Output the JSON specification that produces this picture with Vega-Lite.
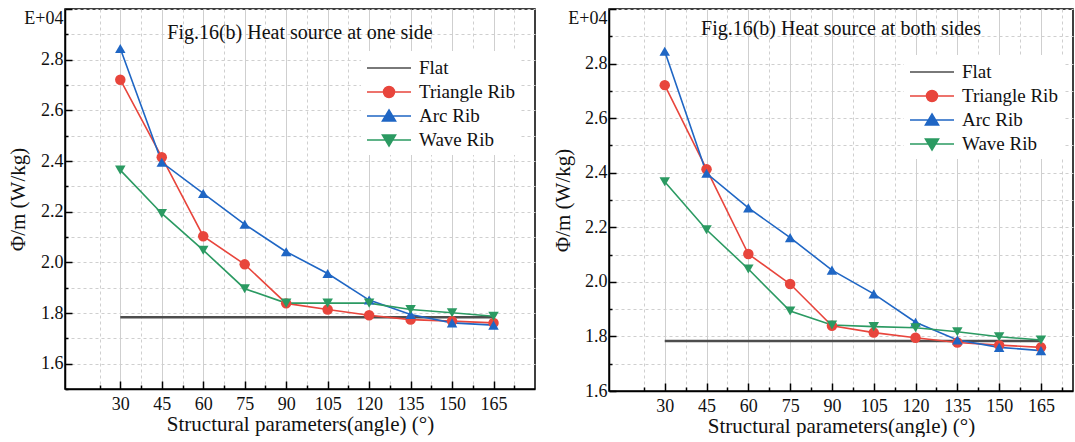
{
  "$schema": "https://vega.github.io/schema/vega-lite/v6.json",
  "background": "white",
  "padding": {"left": 6, "top": 7, "right": 0, "bottom": 0},
  "spacing": 15,
  "config": {
    "font": "Liberation Serif",
    "view": {"stroke": "black", "strokeWidth": 1.5},
    "title": {"font": "Liberation Serif"},
    "style": {"guide-label": {"font": "Liberation Serif"}, "guide-title": {"font": "Liberation Serif"}},
    "legend": {"labelFont": "Liberation Serif", "titleFont": "Liberation Serif"},
    "axis": {
      "labelFont": "Liberation Serif", "titleFont": "Liberation Serif",
      "domainColor": "black", "domainWidth": 1.5,
      "tickColor": "black", "tickWidth": 1.5,
      "labelFontSize": 18, "labelColor": "#111",
      "titleFontSize": 21, "titleFontWeight": "normal", "titleColor": "#111",
      "gridColor": "#cfcfcf", "gridWidth": 1
    }
  },
  "datasets": {
    "d": [
      {"p": "one", "s": "Flat", "a": 30, "v": 1.783},
      {"p": "one", "s": "Flat", "a": 165, "v": 1.783},
      {"p": "one", "s": "Triangle Rib", "a": 30, "v": 2.721},
      {"p": "one", "s": "Triangle Rib", "a": 45, "v": 2.415},
      {"p": "one", "s": "Triangle Rib", "a": 60, "v": 2.103},
      {"p": "one", "s": "Triangle Rib", "a": 75, "v": 1.992},
      {"p": "one", "s": "Triangle Rib", "a": 90, "v": 1.838},
      {"p": "one", "s": "Triangle Rib", "a": 105, "v": 1.814},
      {"p": "one", "s": "Triangle Rib", "a": 120, "v": 1.791},
      {"p": "one", "s": "Triangle Rib", "a": 135, "v": 1.774},
      {"p": "one", "s": "Triangle Rib", "a": 150, "v": 1.768},
      {"p": "one", "s": "Triangle Rib", "a": 165, "v": 1.761},
      {"p": "one", "s": "Arc Rib", "a": 30, "v": 2.844},
      {"p": "one", "s": "Arc Rib", "a": 45, "v": 2.395},
      {"p": "one", "s": "Arc Rib", "a": 60, "v": 2.272},
      {"p": "one", "s": "Arc Rib", "a": 75, "v": 2.15},
      {"p": "one", "s": "Arc Rib", "a": 90, "v": 2.042},
      {"p": "one", "s": "Arc Rib", "a": 105, "v": 1.956},
      {"p": "one", "s": "Arc Rib", "a": 120, "v": 1.851},
      {"p": "one", "s": "Arc Rib", "a": 135, "v": 1.794},
      {"p": "one", "s": "Arc Rib", "a": 150, "v": 1.761},
      {"p": "one", "s": "Arc Rib", "a": 165, "v": 1.752},
      {"p": "one", "s": "Wave Rib", "a": 30, "v": 2.364},
      {"p": "one", "s": "Wave Rib", "a": 45, "v": 2.193},
      {"p": "one", "s": "Wave Rib", "a": 60, "v": 2.048},
      {"p": "one", "s": "Wave Rib", "a": 75, "v": 1.896},
      {"p": "one", "s": "Wave Rib", "a": 90, "v": 1.839},
      {"p": "one", "s": "Wave Rib", "a": 105, "v": 1.839},
      {"p": "one", "s": "Wave Rib", "a": 120, "v": 1.839},
      {"p": "one", "s": "Wave Rib", "a": 135, "v": 1.814},
      {"p": "one", "s": "Wave Rib", "a": 150, "v": 1.801},
      {"p": "one", "s": "Wave Rib", "a": 165, "v": 1.787},
      {"p": "both", "s": "Flat", "a": 30, "v": 1.783},
      {"p": "both", "s": "Flat", "a": 165, "v": 1.783},
      {"p": "both", "s": "Triangle Rib", "a": 30, "v": 2.721},
      {"p": "both", "s": "Triangle Rib", "a": 45, "v": 2.413},
      {"p": "both", "s": "Triangle Rib", "a": 60, "v": 2.102},
      {"p": "both", "s": "Triangle Rib", "a": 75, "v": 1.992},
      {"p": "both", "s": "Triangle Rib", "a": 90, "v": 1.839},
      {"p": "both", "s": "Triangle Rib", "a": 105, "v": 1.814},
      {"p": "both", "s": "Triangle Rib", "a": 120, "v": 1.795},
      {"p": "both", "s": "Triangle Rib", "a": 135, "v": 1.778},
      {"p": "both", "s": "Triangle Rib", "a": 150, "v": 1.768},
      {"p": "both", "s": "Triangle Rib", "a": 165, "v": 1.76},
      {"p": "both", "s": "Arc Rib", "a": 30, "v": 2.845},
      {"p": "both", "s": "Arc Rib", "a": 45, "v": 2.398},
      {"p": "both", "s": "Arc Rib", "a": 60, "v": 2.271},
      {"p": "both", "s": "Arc Rib", "a": 75, "v": 2.162},
      {"p": "both", "s": "Arc Rib", "a": 90, "v": 2.043},
      {"p": "both", "s": "Arc Rib", "a": 105, "v": 1.956},
      {"p": "both", "s": "Arc Rib", "a": 120, "v": 1.852},
      {"p": "both", "s": "Arc Rib", "a": 135, "v": 1.787},
      {"p": "both", "s": "Arc Rib", "a": 150, "v": 1.76},
      {"p": "both", "s": "Arc Rib", "a": 165, "v": 1.748},
      {"p": "both", "s": "Wave Rib", "a": 30, "v": 2.367},
      {"p": "both", "s": "Wave Rib", "a": 45, "v": 2.191},
      {"p": "both", "s": "Wave Rib", "a": 60, "v": 2.047},
      {"p": "both", "s": "Wave Rib", "a": 75, "v": 1.893},
      {"p": "both", "s": "Wave Rib", "a": 90, "v": 1.842},
      {"p": "both", "s": "Wave Rib", "a": 105, "v": 1.836},
      {"p": "both", "s": "Wave Rib", "a": 120, "v": 1.832},
      {"p": "both", "s": "Wave Rib", "a": 135, "v": 1.817},
      {"p": "both", "s": "Wave Rib", "a": 150, "v": 1.799},
      {"p": "both", "s": "Wave Rib", "a": 165, "v": 1.787}
    ]
  },
  "resolve": {
    "scale": {"x": "independent", "y": "independent", "color": "independent", "shape": "independent", "fill": "independent", "stroke": "independent"},
    "legend": {"color": "independent", "shape": "independent", "fill": "independent", "stroke": "independent"}
  },
  "hconcat": [
    {
      "width": 470,
      "height": 380,
      "title": {"text": "Fig.16(b) Heat source at one side", "offset": -35, "fontSize": 20, "fontWeight": "normal", "color": "#111", "font": "Liberation Serif"},
      "data": {"name": "d"},
      "transform": [{"filter": "datum.p == 'one'"}],
      "encoding": {
        "x": {
          "field": "a", "type": "quantitative",
          "scale": {"domain": [10, 180], "nice": false, "zero": false},
          "axis": {
            "title": "Structural parameters(angle) (°)",
            "labelFont": "Liberation Serif", "titleFont": "Liberation Serif", "labelFontSize": 18, "titleFontSize": 21,
            "values": [22.5, 30, 37.5, 45, 52.5, 60, 67.5, 75, 82.5, 90, 97.5, 105, 112.5, 120, 127.5, 135, 142.5, 150, 157.5, 165, 172.5],
            "labelExpr": "datum.value % 15 == 0 ? format(datum.value, 'd') : ''",
            "grid": true,
            "gridDash": {"condition": {"test": "datum.value % 15 != 0", "value": [3, 3]}, "value": []},
            "tickSize": {"condition": {"test": "datum.value % 15 == 0", "value": -8}, "value": -4},
            "labelPadding": 14,
            "titlePadding": 0
          }
        },
        "y": {
          "field": "v", "type": "quantitative",
          "scale": {"domain": [1.5, 3.0], "nice": false, "zero": false},
          "axis": {
            "title": "Φ/m (W/kg)",
            "labelFont": "Liberation Serif", "titleFont": "Liberation Serif", "labelFontSize": 18, "titleFontSize": 21,
            "titleX": -37,
            "values": [1.5, 1.6, 1.7, 1.8, 1.9, 2.0, 2.1, 2.2, 2.3, 2.4, 2.5, 2.6, 2.7, 2.8, 2.9, 3.0],
            "labelExpr": "datum.value > 2.95 ? 'E+04' : (round(datum.value * 10) % 2 == 0 && datum.value > 1.55 ? format(datum.value, '.1f') : '')",
            "labelBaseline": {"condition": {"test": "datum.value > 2.95", "value": "top"}, "value": "middle"},
            "grid": true,
            "gridDash": [3, 3],
            "tickSize": {"condition": {"test": "round(datum.value * 10) % 2 == 0", "value": -7}, "value": -3},
            "labelPadding": 9
          }
        }
      },
      "layer": [
        {
          "transform": [{"filter": "datum.s == 'Flat'"}],
          "mark": {"type": "line", "strokeWidth": 2.4},
          "encoding": {
            "color": {"field": "s", "type": "nominal", "scale": {"domain": ["Triangle Rib", "Arc Rib", "Wave Rib", "Flat"], "range": ["#e8453c", "#1f66c4", "#2b9a62", "#4d4d4d"]}, "legend": null}
          }
        },
        {
          "transform": [{"filter": "datum.s != 'Flat'"}],
          "mark": {"type": "line", "strokeWidth": 1.6},
          "encoding": {
            "color": {"field": "s", "type": "nominal", "legend": null}
          }
        },
        {
          "transform": [{"filter": "datum.s == 'Triangle Rib'"}],
          "mark": {"type": "point", "filled": true, "size": 110, "opacity": 1, "shape": "circle"},
          "encoding": {"color": {"field": "s", "type": "nominal", "legend": null}}
        },
        {
          "transform": [{"filter": "datum.s == 'Arc Rib'"}],
          "mark": {"type": "point", "filled": true, "size": 110, "opacity": 1, "shape": "triangle-up"},
          "encoding": {"color": {"field": "s", "type": "nominal", "legend": null}}
        },
        {
          "transform": [{"filter": "datum.s == 'Wave Rib'"}],
          "mark": {"type": "point", "filled": true, "size": 110, "opacity": 1, "shape": "triangle-down"},
          "encoding": {"color": {"field": "s", "type": "nominal", "legend": null}}
        },
        {
          "mark": {"type": "point", "filled": true, "size": 484, "strokeWidth": 1.5, "opacity": 0},
          "encoding": {
            "fill": {"field": "s", "type": "nominal", "scale": {"domain": ["Flat", "Triangle Rib", "Arc Rib", "Wave Rib"], "range": ["#4d4d4d", "#e8453c", "#1f66c4", "#2b9a62"]},
              "legend": {"title": null, "orient": "none", "legendX": 296, "legendY": 42, "labelFont": "Liberation Serif", "labelFontSize": 19, "labelColor": "#111", "symbolSize": 484, "symbolStrokeWidth": 1.5, "symbolOpacity": 1, "labelOffset": 29, "rowPadding": 2, "padding": 5, "fillColor": "white"}},
            "stroke": {"field": "s", "type": "nominal", "scale": {"domain": ["Flat", "Triangle Rib", "Arc Rib", "Wave Rib"], "range": ["#4d4d4d", "#e8453c", "#1f66c4", "#2b9a62"]},
              "legend": {"title": null, "orient": "none", "legendX": 296, "legendY": 42, "labelFont": "Liberation Serif", "labelFontSize": 19, "labelColor": "#111", "symbolSize": 484, "symbolStrokeWidth": 1.5, "symbolOpacity": 1, "labelOffset": 29, "rowPadding": 2, "padding": 5, "fillColor": "white"}},
            "shape": {"field": "s", "type": "nominal", "scale": {"domain": ["Flat", "Triangle Rib", "Arc Rib", "Wave Rib"], "range": ["M-1,0H3", "M-1,0H3M0.5,0A0.5,0.5,0,1,0,1.5,0A0.5,0.5,0,1,0,0.5,0Z", "M-1,0H3M1,-0.55L1.6,0.45L0.4,0.45Z", "M-1,0H3M1,0.55L1.6,-0.45L0.4,-0.45Z"]},
              "legend": {"title": null, "orient": "none", "legendX": 296, "legendY": 42, "labelFont": "Liberation Serif", "labelFontSize": 19, "labelColor": "#111", "symbolSize": 484, "symbolStrokeWidth": 1.5, "symbolOpacity": 1, "labelOffset": 29, "rowPadding": 2, "padding": 5, "fillColor": "white"}}
          }
        }
      ]
    },
    {
      "width": 464,
      "height": 382,
      "title": {"text": "Fig.16(b) Heat source at both sides", "offset": -31, "fontSize": 20, "fontWeight": "normal", "color": "#111", "font": "Liberation Serif"},
      "data": {"name": "d"},
      "transform": [{"filter": "datum.p == 'both'"}],
      "encoding": {
        "x": {
          "field": "a", "type": "quantitative",
          "scale": {"domain": [10, 176.5], "nice": false, "zero": false},
          "axis": {
            "title": "Structural parameters(angle) (°)",
            "labelFont": "Liberation Serif", "titleFont": "Liberation Serif", "labelFontSize": 18, "titleFontSize": 21,
            "values": [22.5, 30, 37.5, 45, 52.5, 60, 67.5, 75, 82.5, 90, 97.5, 105, 112.5, 120, 127.5, 135, 142.5, 150, 157.5, 165, 172.5],
            "labelExpr": "datum.value % 15 == 0 ? format(datum.value, 'd') : ''",
            "grid": true,
            "gridDash": {"condition": {"test": "datum.value % 15 != 0", "value": [3, 3]}, "value": []},
            "tickSize": {"condition": {"test": "datum.value % 15 == 0", "value": -8}, "value": -4},
            "labelPadding": 14,
            "titlePadding": 0
          }
        },
        "y": {
          "field": "v", "type": "quantitative",
          "scale": {"domain": [1.6, 3.0], "nice": false, "zero": false},
          "axis": {
            "title": "Φ/m (W/kg)",
            "labelFont": "Liberation Serif", "titleFont": "Liberation Serif", "labelFontSize": 18, "titleFontSize": 21,
            "titleX": -36,
            "values": [1.6, 1.7, 1.8, 1.9, 2.0, 2.1, 2.2, 2.3, 2.4, 2.5, 2.6, 2.7, 2.8, 2.9, 3.0],
            "labelExpr": "datum.value > 2.95 ? 'E+04' : (round(datum.value * 10) % 2 == 0 ? format(datum.value, '.1f') : '')",
            "labelBaseline": {"condition": {"test": "datum.value > 2.95", "value": "top"}, "value": "middle"},
            "grid": true,
            "gridDash": [3, 3],
            "tickSize": {"condition": {"test": "round(datum.value * 10) % 2 == 0", "value": -7}, "value": -3},
            "labelPadding": 9
          }
        }
      },
      "layer": [
        {
          "transform": [{"filter": "datum.s == 'Flat'"}],
          "mark": {"type": "line", "strokeWidth": 2.4},
          "encoding": {
            "color": {"field": "s", "type": "nominal", "scale": {"domain": ["Triangle Rib", "Arc Rib", "Wave Rib", "Flat"], "range": ["#e8453c", "#1f66c4", "#2b9a62", "#4d4d4d"]}, "legend": null}
          }
        },
        {
          "transform": [{"filter": "datum.s != 'Flat'"}],
          "mark": {"type": "line", "strokeWidth": 1.6},
          "encoding": {
            "color": {"field": "s", "type": "nominal", "legend": null}
          }
        },
        {
          "transform": [{"filter": "datum.s == 'Triangle Rib'"}],
          "mark": {"type": "point", "filled": true, "size": 110, "opacity": 1, "shape": "circle"},
          "encoding": {"color": {"field": "s", "type": "nominal", "legend": null}}
        },
        {
          "transform": [{"filter": "datum.s == 'Arc Rib'"}],
          "mark": {"type": "point", "filled": true, "size": 110, "opacity": 1, "shape": "triangle-up"},
          "encoding": {"color": {"field": "s", "type": "nominal", "legend": null}}
        },
        {
          "transform": [{"filter": "datum.s == 'Wave Rib'"}],
          "mark": {"type": "point", "filled": true, "size": 110, "opacity": 1, "shape": "triangle-down"},
          "encoding": {"color": {"field": "s", "type": "nominal", "legend": null}}
        },
        {
          "mark": {"type": "point", "filled": true, "size": 484, "strokeWidth": 1.5, "opacity": 0},
          "encoding": {
            "fill": {"field": "s", "type": "nominal", "scale": {"domain": ["Flat", "Triangle Rib", "Arc Rib", "Wave Rib"], "range": ["#4d4d4d", "#e8453c", "#1f66c4", "#2b9a62"]},
              "legend": {"title": null, "orient": "none", "legendX": 295, "legendY": 46, "labelFont": "Liberation Serif", "labelFontSize": 19, "labelColor": "#111", "symbolSize": 484, "symbolStrokeWidth": 1.5, "symbolOpacity": 1, "labelOffset": 29, "rowPadding": 2, "padding": 5, "fillColor": "white"}},
            "stroke": {"field": "s", "type": "nominal", "scale": {"domain": ["Flat", "Triangle Rib", "Arc Rib", "Wave Rib"], "range": ["#4d4d4d", "#e8453c", "#1f66c4", "#2b9a62"]},
              "legend": {"title": null, "orient": "none", "legendX": 295, "legendY": 46, "labelFont": "Liberation Serif", "labelFontSize": 19, "labelColor": "#111", "symbolSize": 484, "symbolStrokeWidth": 1.5, "symbolOpacity": 1, "labelOffset": 29, "rowPadding": 2, "padding": 5, "fillColor": "white"}},
            "shape": {"field": "s", "type": "nominal", "scale": {"domain": ["Flat", "Triangle Rib", "Arc Rib", "Wave Rib"], "range": ["M-1,0H3", "M-1,0H3M0.5,0A0.5,0.5,0,1,0,1.5,0A0.5,0.5,0,1,0,0.5,0Z", "M-1,0H3M1,-0.55L1.6,0.45L0.4,0.45Z", "M-1,0H3M1,0.55L1.6,-0.45L0.4,-0.45Z"]},
              "legend": {"title": null, "orient": "none", "legendX": 295, "legendY": 46, "labelFont": "Liberation Serif", "labelFontSize": 19, "labelColor": "#111", "symbolSize": 484, "symbolStrokeWidth": 1.5, "symbolOpacity": 1, "labelOffset": 29, "rowPadding": 2, "padding": 5, "fillColor": "white"}}
          }
        }
      ]
    }
  ]
}
